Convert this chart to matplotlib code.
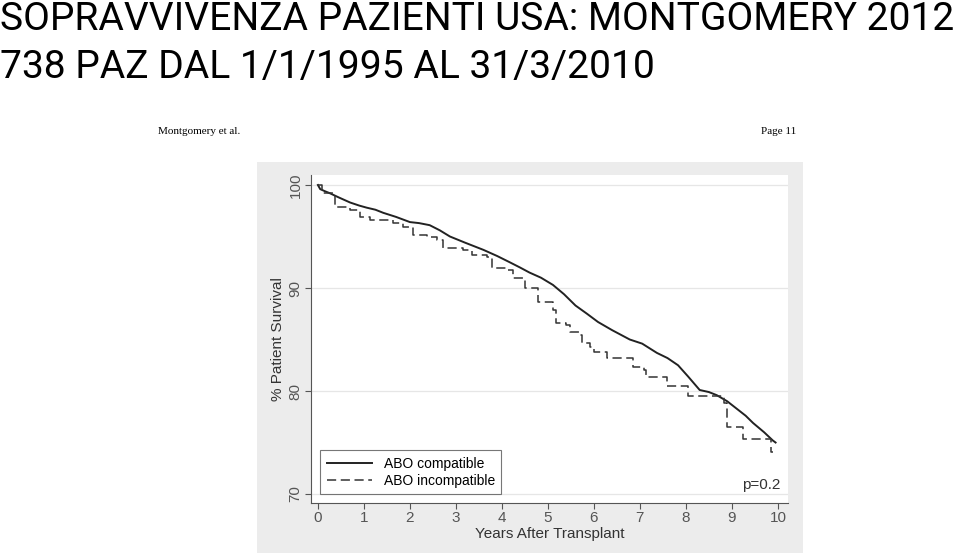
import matplotlib
matplotlib.use('Agg')
import matplotlib.pyplot as plt
from matplotlib.patches import Rectangle

# Kaplan-Meier survival
comp_years = [0, 0.05, 0.15, 0.26, 0.45, 0.7, 0.9, 1.06, 1.25, 1.42, 1.7, 2.0, 2.2, 2.43, 2.65, 2.87,
              3.2, 3.6, 3.9, 4.17, 4.39, 4.6, 4.85, 5.11, 5.35, 5.6, 5.85, 6.09, 6.4, 6.78, 7.05,
              7.37, 7.6, 7.83, 8.05, 8.3, 8.5, 8.67, 8.9, 9.1, 9.3, 9.46, 9.7, 9.89, 9.95]
comp_surv = [100, 99.6, 99.4, 99.2, 98.8, 98.3, 98.0, 97.8, 97.6, 97.3, 96.9, 96.4, 96.3, 96.1, 95.6, 95.0,
             94.4, 93.7, 93.1, 92.5, 92.0, 91.5, 91.0, 90.3, 89.4, 88.3, 87.5, 86.7, 85.9, 85.0, 84.6,
             83.7, 83.2, 82.5, 81.4, 80.1, 79.9, 79.6, 79.0, 78.3, 77.6, 76.9, 76.0, 75.2, 75.0]

inc_years = [0, 0.1, 0.37, 0.7, 0.91, 1.13, 1.63, 1.85, 2.07, 2.37, 2.59, 2.72, 3.15, 3.35, 3.67,
             3.78, 4.1, 4.24, 4.5, 4.78, 5.11, 5.17, 5.4, 5.48, 5.7, 5.74, 5.91, 6.0, 6.28, 6.85,
             7.1, 7.13, 7.6, 8.04, 8.83, 8.89, 9.24, 9.85, 9.9]
inc_surv = [100, 99.2, 97.9, 97.6, 96.9, 96.6, 96.3, 95.9, 95.1, 95.0, 94.7, 93.9, 93.7, 93.2, 93.0,
            91.9, 91.7, 91.0, 90.0, 88.6, 87.9, 86.6, 86.4, 85.7, 85.4, 84.7, 84.3, 83.8, 83.2, 82.3,
            82.0, 81.4, 80.5, 79.5, 78.8, 76.5, 75.3, 74.1, 74.1]

x_ticks = list(range(0, 11))
y_ticks = [70, 80, 90, 100]

title_1 = 'SOPRAVVIVENZA PAZIENTI USA: MONTGOMERY 2012'
title_2 = '738 PAZ DAL 1/1/1995 AL 31/3/2010'

fig = plt.figure(figsize=(9.6, 5.53), dpi=100)
fig.patch.set_facecolor('white')

# grey graph region
fig.patches.append(Rectangle((257 / 960, 0), 546 / 960, 391 / 553, transform=fig.transFigure,
                             facecolor='#ececec', edgecolor='none', zorder=-5))

t1 = fig.text(0.0, 1 - 1 / 553, title_1, family='Roboto',
              fontsize=27, va='top', ha='left', color='black')
t2 = fig.text(0.0, 1 - 49 / 553, title_2, family='Roboto',
              fontsize=27, va='top', ha='left', color='black')
# shrink font so the first line spans the width like the original
r = fig.canvas.get_renderer()
w = t1.get_window_extent(r).width
fs = 27 * 955 / w
t1.set_fontsize(fs)
t2.set_fontsize(fs)

fig.text(158 / 960, 1 - 131 / 553, 'Montgomery et al.', family='Liberation Serif', fontsize=8,
         va='center', ha='left')
fig.text(796 / 960, 1 - 131 / 553, 'Page 11', family='Liberation Serif', fontsize=8,
         va='center', ha='right')

ax = fig.add_axes([311 / 960, 1 - 503 / 553, 477 / 960, 328 / 553])
ax.set_facecolor('white')
ax.plot(comp_years, comp_surv, color='#222222', lw=1.4, label='ABO compatible')
ax.step(inc_years, inc_surv, where='post', color='#333333', lw=1.1, ls=(0, (6, 3)),
        label='ABO incompatible')

ax.set_xlim(-0.15, 10.22)
ax.set_ylim(69.13, 100.97)
ax.set_xticks(x_ticks)
ax.set_yticks(y_ticks)
ax.set_yticklabels([str(v) for v in y_ticks], rotation=90, va='center')
for lab in ax.get_xticklabels() + ax.get_yticklabels():
    lab.set_family('Liberation Sans')
    lab.set_fontsize(11)
    lab.set_color('#333333')
ax.tick_params(colors='#555555', length=4, width=0.8)
ax.tick_params(axis='x', pad=2)
ax.tick_params(axis='y', pad=2)
ax.grid(True, axis='y', color='#e6e6e6', lw=0.9)
ax.set_axisbelow(True)
for s in ['top', 'right']:
    ax.spines[s].set_visible(False)
for s in ['left', 'bottom']:
    ax.spines[s].set_color('#555555')
    ax.spines[s].set_linewidth(0.8)

ax.set_xlabel('Years After Transplant', family='Liberation Sans', fontsize=11, color='#333333',
              labelpad=1)
ax.set_ylabel('% Patient Survival', family='Liberation Sans', fontsize=11, color='#333333',
              labelpad=3)

leg = ax.legend(loc='lower left', frameon=True, fancybox=False, prop={'family': 'Liberation Sans', 'size': 10},
                handlelength=3.3, borderpad=0.45, labelspacing=0.25, bbox_to_anchor=(0.005, 0.005))
leg.get_frame().set_edgecolor('#555555')
leg.get_frame().set_linewidth(0.8)

ax.text(0.985, 70.2, 'p=0.2', transform=ax.get_yaxis_transform(), ha='right', va='bottom',
        family='Liberation Sans', fontsize=11, color='#333333')

fig.savefig('out.png', dpi=100)
